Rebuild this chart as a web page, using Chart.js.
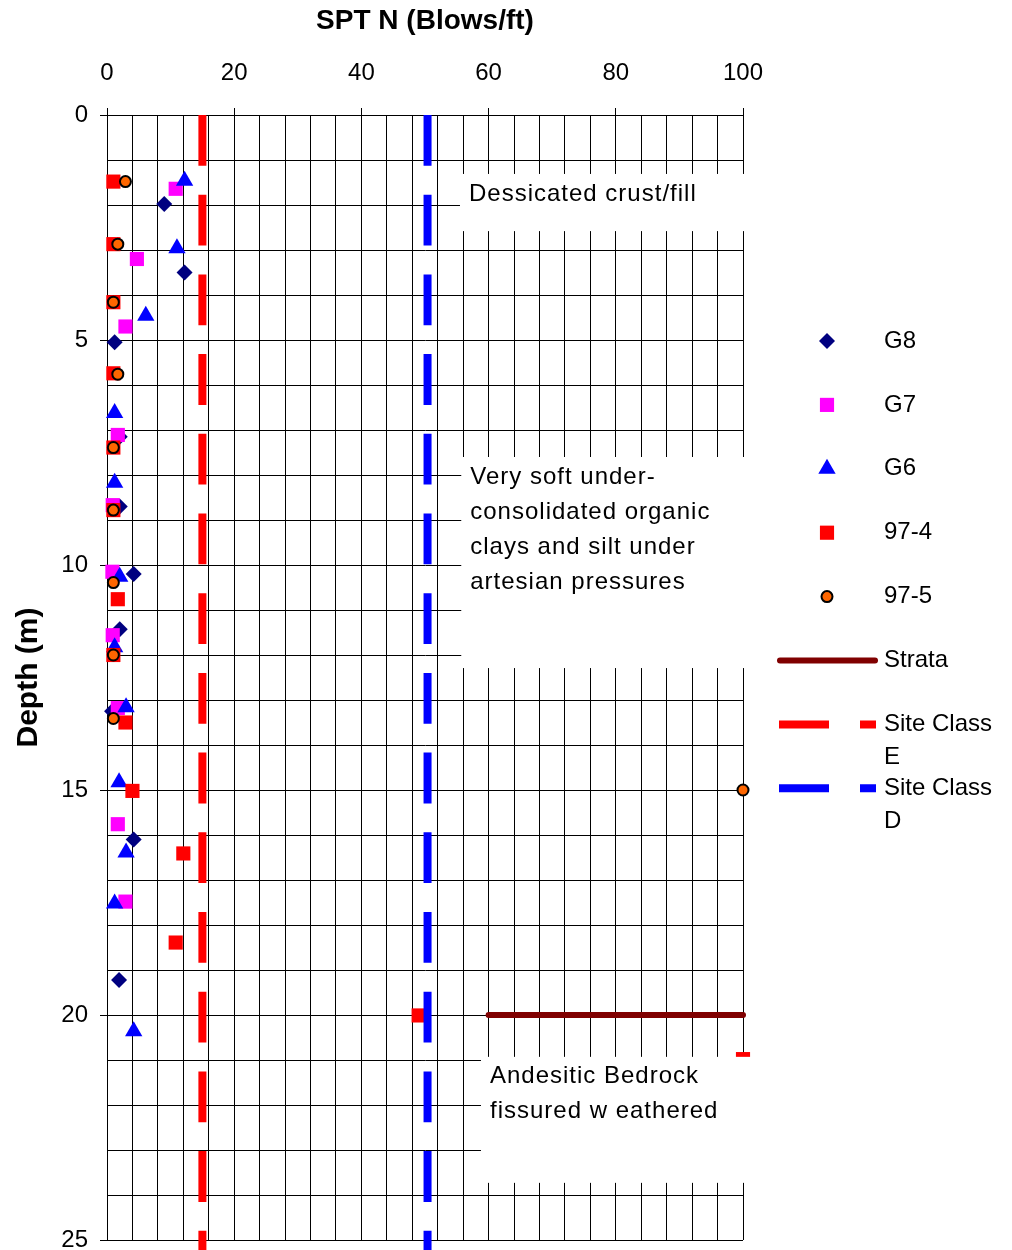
<!DOCTYPE html>
<html>
<head>
<meta charset="utf-8">
<script src="https://cdn.jsdelivr.net/npm/chart.js@4.4.0/dist/chart.umd.min.js"></script>
<style>
  body { margin: 0; background: #fff; }
</style>
</head>
<body>
<canvas id="sptChart" width="1012" height="1250"></canvas>
<script>
// SPT N values (blows/ft) and depths (m) per borehole
const g8N = [9, 12.2, 1.2, 2, 2, 4.2, 2, 0.8, 4.2, 1.9];
const g8Depth = [1.98, 3.5, 5.05, 7.15, 8.7, 10.2, 11.43, 13.25, 16.1, 19.22];

const g7N = [10.8, 4.7, 2.9, 1.7, 0.9, 0.85, 0.9, 1.7, 1.7, 2.9];
const g7Depth = [1.64, 3.2, 4.7, 7.11, 8.67, 10.15, 11.56, 13.18, 15.76, 17.48];

const g6N = [12.2, 11, 6.1, 1.2, 1.2, 2, 1.2, 3, 1.9, 3, 1.2, 4.2];
const g6Depth = [1.46, 2.96, 4.46, 6.62, 8.17, 10.26, 11.83, 13.16, 14.83, 16.39, 17.52, 20.36];

const bh974N = [1, 1, 1, 1, 1, 1, 1.7, 1, 2.9, 4, 12, 10.8, 49, 100];
const bh974Depth = [1.48, 2.87, 4.16, 5.74, 7.39, 8.78, 10.76, 12.0, 13.5, 15.02, 16.41, 18.39, 20.01, 20.98];

const bh975N = [2.9, 1.7, 1, 1.7, 1, 1, 1, 1, 1, 100];
const bh975Depth = [1.48, 2.87, 4.16, 5.76, 7.39, 8.78, 10.39, 12.0, 13.41, 15.0];

const strataN = [60, 100];
const strataDepth = [20, 20];

const siteClassEN = [15, 15];
const siteClassDN = [50.4, 50.4];
const siteClassDepth = [0, 25.5];

const xTickLabels = [0, 20, 40, 60, 80, 100];
const yTickLabels = [0, 5, 10, 15, 20, 25];

const font = "'Liberation Sans', Arial, sans-serif";

const notes = [
  { lines: ['Dessicated crust/fill'], xFrom: 55.5, yFrom: 1.31, yTo: 2.58 },
  { lines: ['Very soft under-', 'consolidated organic', 'clays and silt under', 'artesian pressures'], xFrom: 55.7, yFrom: 7.6, yTo: 12.29 },
  { lines: ['Andesitic Bedrock', 'fissured w eathered'], xFrom: 58.8, yFrom: 20.93, yTo: 23.73 }
];

const toPoints = (xs, ys) => xs.map((x, i) => ({ x: x, y: ys[i] }));
const isLabel = (list, v) => list.some(t => Math.abs(t - v) < 1e-6);

const datasets = [
  { label: 'G8', data: toPoints(g8N, g8Depth), pointStyle: 'rectRot', pointRadius: 8,
    backgroundColor: '#000080', borderColor: '#000080', pointBorderWidth: 0, order: 5, clip: false },
  { label: 'G7', data: toPoints(g7N, g7Depth), pointStyle: 'rect', pointRadius: 10,
    backgroundColor: '#ff00ff', borderColor: '#ff00ff', pointBorderWidth: 0, order: 4, clip: false },
  { label: 'G6', data: toPoints(g6N, g6Depth), pointStyle: 'triangle', pointRadius: 10,
    backgroundColor: '#0000ff', borderColor: '#0000ff', pointBorderWidth: 0, order: 3, clip: false },
  { label: '97-4', data: toPoints(bh974N, bh974Depth), pointStyle: 'rect', pointRadius: 10,
    backgroundColor: '#ff0000', borderColor: '#ff0000', pointBorderWidth: 0, order: 2, clip: false },
  { label: '97-5', data: toPoints(bh975N, bh975Depth), pointStyle: 'circle', pointRadius: 5.5,
    backgroundColor: '#ff6600', borderColor: '#000000', pointBorderWidth: 2, order: 1, clip: false },
  { type: 'line', label: 'Strata', data: toPoints(strataN, strataDepth), showLine: true,
    borderColor: '#800000', borderWidth: 6, borderCapStyle: 'round', pointRadius: 0, fill: false, order: 0, clip: false },
  { type: 'line', label: 'Site Class E', data: toPoints(siteClassEN, siteClassDepth), showLine: true,
    borderColor: '#ff0000', borderWidth: 8, borderDash: [50.8, 28.9], pointRadius: 0, fill: false, order: 0, clip: false },
  { type: 'line', label: 'Site Class D', data: toPoints(siteClassDN, siteClassDepth), showLine: true,
    borderColor: '#0000ff', borderWidth: 8, borderDash: [50.8, 28.9], pointRadius: 0, fill: false, order: 0, clip: false }
];

// white text boxes laid over the plot
const notesPlugin = {
  id: 'notes',
  afterDatasetsDraw(chart) {
    const ctx = chart.ctx;
    const xs = chart.scales.x, ys = chart.scales.y;
    ctx.save();
    notes.forEach(n => {
      const left = xs.getPixelForValue(n.xFrom);
      const top = ys.getPixelForValue(n.yFrom);
      const bottom = ys.getPixelForValue(n.yTo);
      ctx.fillStyle = '#fff';
      ctx.fillRect(left, top, chart.chartArea.right + 10 - left, bottom - top);
      ctx.fillStyle = '#000';
      ctx.font = '24px ' + font;
      ctx.letterSpacing = '1px';
      ctx.textBaseline = 'middle';
      ctx.textAlign = 'left';
      n.lines.forEach((line, i) => ctx.fillText(line, left + 9, top + 20 + i * 35));
    });
    ctx.restore();
  }
};

// legend on the right, text wraps like the original
const legendPlugin = {
  id: 'sideLegend',
  afterDraw(chart) {
    const ctx = chart.ctx;
    ctx.save();
    ctx.font = '24px ' + font;
    ctx.textBaseline = 'middle';
    ctx.textAlign = 'left';
    chart.data.datasets.forEach((ds, i) => {
      const y = 341 + i * 63.9;
      if (ds.type === 'line') {
        ctx.strokeStyle = ds.borderColor;
        ctx.lineWidth = ds.borderWidth;
        ctx.lineCap = ds.borderDash ? 'butt' : 'round';
        ctx.setLineDash(ds.borderDash ? [50, 31] : []);
        ctx.beginPath();
        ctx.moveTo(ds.borderDash ? 779 : 780, y);
        ctx.lineTo(ds.borderDash ? 876 : 875, y);
        ctx.stroke();
        ctx.setLineDash([]);
      } else {
        ctx.fillStyle = ds.backgroundColor;
        ctx.strokeStyle = ds.borderColor;
        ctx.lineWidth = ds.pointBorderWidth;
        Chart.helpers.drawPoint(ctx, {
          pointStyle: ds.pointStyle, radius: ds.pointRadius, rotation: 0, borderWidth: ds.pointBorderWidth
        }, 827, y);
      }
      // simple word wrap
      const words = ds.label.split(' ');
      const lines = [];
      let cur = '';
      words.forEach(w => {
        const test = cur ? cur + ' ' + w : w;
        if (ctx.measureText(test).width > 118 && cur) { lines.push(cur); cur = w; } else { cur = test; }
      });
      lines.push(cur);
      ctx.fillStyle = '#000';
      lines.forEach((l, k) => ctx.fillText(l, 884, y + k * 33));
    });
    ctx.restore();
  }
};

const ctx = document.getElementById('sptChart').getContext('2d');
const sptChart = new Chart(ctx, {
  type: 'scatter',
  data: { datasets: datasets },
  options: {
    responsive: false,
    devicePixelRatio: 1,
    animation: false,
    events: [],
    layout: { autoPadding: false, padding: { left: 0, right: 269, top: 0, bottom: 10 } },
    plugins: {
      legend: { display: false },
      tooltip: { enabled: false }
    },
    scales: {
      x: {
        type: 'linear',
        position: 'top',
        min: 0,
        max: 100,
        ticks: {
          stepSize: 4,
          autoSkip: false,
          maxRotation: 0,
          padding: 20,
          color: '#000',
          font: { family: font, size: 24 },
          callback: v => isLabel(xTickLabels, v) ? v : ''
        },
        grid: {
          color: '#000',
          lineWidth: 1,
          tickLength: 7,
          tickColor: c => isLabel(xTickLabels, c.tick.value) ? '#000' : 'rgba(0,0,0,0)'
        },
        border: { color: '#000', width: 1 },
        title: {
          display: true,
          text: 'SPT N (Blows/ft)',
          color: '#000',
          font: { family: font, size: 28, weight: 'bold' },
          padding: { top: 4, bottom: 0 }
        },
        afterFit: s => { s.height = 115; }
      },
      y: {
        type: 'linear',
        position: 'left',
        reverse: true,
        min: 0,
        max: 25,
        ticks: {
          stepSize: 1,
          autoSkip: false,
          padding: 12,
          color: '#000',
          font: { family: font, size: 24 },
          callback: v => isLabel(yTickLabels, v) ? v : ''
        },
        grid: {
          color: '#000',
          lineWidth: 1,
          tickLength: 7,
          tickColor: c => isLabel(yTickLabels, c.tick.value) ? '#000' : 'rgba(0,0,0,0)'
        },
        border: { color: '#000', width: 1 },
        title: {
          display: true,
          text: 'Depth (m)',
          color: '#000',
          font: { family: font, size: 30, weight: 'bold' },
          padding: { top: 11, bottom: 0 }
        },
        afterFit: s => { s.width = 107; s.paddingTop = 0; s.paddingBottom = 0; }
      }
    }
  },
  plugins: [notesPlugin, legendPlugin]
});
</script>
</body>
</html>
